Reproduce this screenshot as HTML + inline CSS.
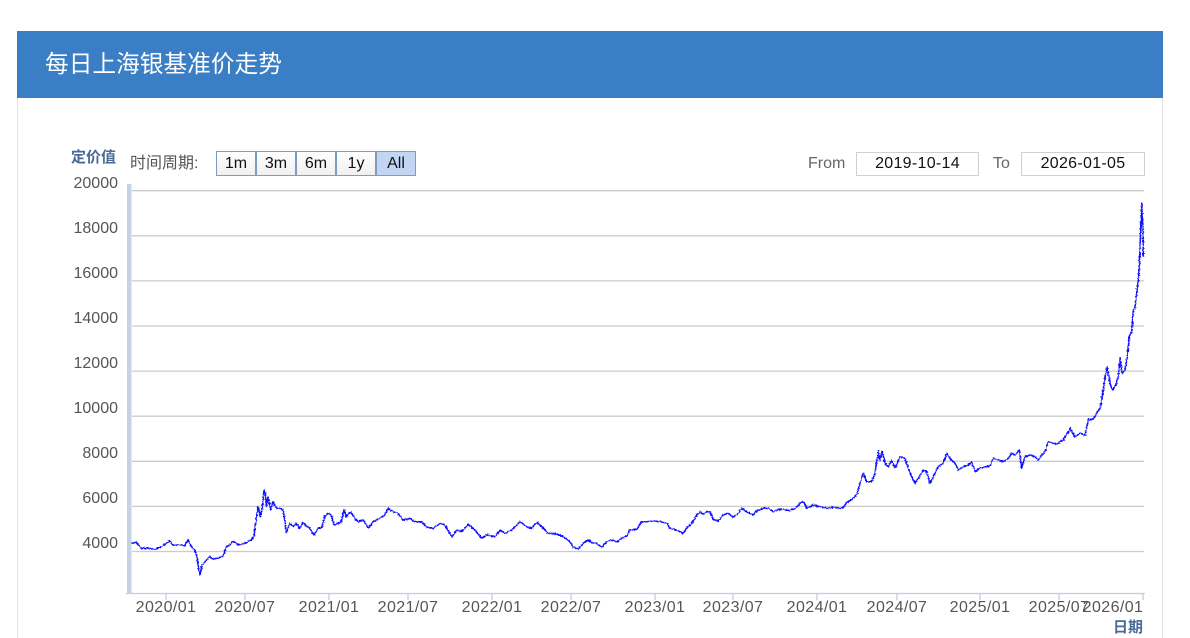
<!DOCTYPE html>
<html><head><meta charset="utf-8"><style>
*{margin:0;padding:0;box-sizing:border-box}
html,body{width:1190px;height:638px;background:#fff;overflow:hidden;position:relative;font-family:"Liberation Sans","Noto Sans CJK SC",sans-serif}
.card{position:absolute;left:17px;top:31px;width:1146px;height:620px;border:1px solid #e3e3e3;border-top:none}
.hdr{position:absolute;left:17px;top:31px;width:1146px;height:67px;background:#3a7ec6}
.title{position:absolute;left:45px;top:50px;color:#fff;font-size:23.7px;line-height:30px;font-family:"Liberation Sans","Noto Sans CJK SC",sans-serif;white-space:nowrap}
.abs{position:absolute;white-space:nowrap}
.btn{position:absolute;top:151px;height:25px;width:40px;border:1px solid #7f9bbd;background:linear-gradient(#ffffff,#f0f0f0);font-size:16px;line-height:23px;text-align:center;color:#111}
.box{position:absolute;top:152px;height:24px;border:1.5px solid #cfcfcf;font-size:16px;line-height:21px;text-align:center;color:#111;background:#fff;letter-spacing:0.3px}
.yl{position:absolute;right:1072px;font-size:16px;color:#555;line-height:16px}
.xl{position:absolute;font-size:16px;color:#555;line-height:16px;width:80px;margin-left:-40px;text-align:center;top:600px;letter-spacing:0.4px}
</style></head><body>
<div class="card"></div>
<div class="hdr"></div>
<div class="title">每日上海银基准价走势</div>

<div class="abs" style="left:71px;top:149px;font-size:15px;font-weight:bold;color:#4a6a96;line-height:18px">定价值</div>
<div class="abs" style="left:130px;top:155px;font-size:16px;color:#555;line-height:18px">时间周期:</div>
<div class="btn" style="left:216px">1m</div>
<div class="btn" style="left:256px">3m</div>
<div class="btn" style="left:296px">6m</div>
<div class="btn" style="left:336px">1y</div>
<div class="btn" style="left:376px;background:#c2d5f2">All</div>

<div class="abs" style="left:808px;top:155px;font-size:16px;color:#666;line-height:18px">From</div>
<div class="box" style="left:856px;width:123px">2019-10-14</div>
<div class="abs" style="left:993px;top:155px;font-size:16px;color:#666;line-height:18px">To</div>
<div class="box" style="left:1021px;width:124px">2026-01-05</div>

<div class="yl" style="top:176px">20000</div>
<div class="yl" style="top:221px">18000</div>
<div class="yl" style="top:266px">16000</div>
<div class="yl" style="top:311px">14000</div>
<div class="yl" style="top:356px">12000</div>
<div class="yl" style="top:401px">10000</div>
<div class="yl" style="top:446px">8000</div>
<div class="yl" style="top:491px">6000</div>
<div class="yl" style="top:536px">4000</div>

<svg class="abs" style="left:0;top:0" width="1190" height="638" viewBox="0 0 1190 638">
<defs>
<filter id="jit" x="-5%" y="-5%" width="110%" height="110%">
<feTurbulence type="fractalNoise" baseFrequency="0.6" numOctaves="2" seed="3" result="n"/>
<feDisplacementMap in="SourceGraphic" in2="n" scale="3" xChannelSelector="R" yChannelSelector="G"/>
</filter>
</defs>
<g stroke="#cccccc" stroke-width="1.3">
<line x1="132" y1="190.7" x2="1144" y2="190.7"/>
<line x1="132" y1="235.8" x2="1144" y2="235.8"/>
<line x1="132" y1="280.9" x2="1144" y2="280.9"/>
<line x1="132" y1="326" x2="1144" y2="326"/>
<line x1="132" y1="371.1" x2="1144" y2="371.1"/>
<line x1="132" y1="416.2" x2="1144" y2="416.2"/>
<line x1="132" y1="461.3" x2="1144" y2="461.3"/>
<line x1="132" y1="506.4" x2="1144" y2="506.4"/>
<line x1="132" y1="551.5" x2="1144" y2="551.5"/>
</g>
<rect x="127" y="184" width="4.5" height="410" fill="#c6d3e4"/>
<line x1="126" y1="593.5" x2="1145" y2="593.5" stroke="#c0d0e2" stroke-width="1.3"/>
<g stroke="#c0d0e2" stroke-width="1.3">
<line x1="166" y1="593" x2="166" y2="600"/>
<line x1="245" y1="593" x2="245" y2="600"/>
<line x1="329" y1="593" x2="329" y2="600"/>
<line x1="408" y1="593" x2="408" y2="600"/>
<line x1="492" y1="593" x2="492" y2="600"/>
<line x1="571" y1="593" x2="571" y2="600"/>
<line x1="655" y1="593" x2="655" y2="600"/>
<line x1="733" y1="593" x2="733" y2="600"/>
<line x1="817" y1="593" x2="817" y2="600"/>
<line x1="897" y1="593" x2="897" y2="600"/>
<line x1="980" y1="593" x2="980" y2="600"/>
<line x1="1059" y1="593" x2="1059" y2="600"/>
<line x1="1143" y1="593" x2="1143" y2="600"/>
</g>
<polyline filter="url(#jit)" fill="none" stroke="#1010ff" stroke-width="1.5" stroke-linejoin="round" points="131.3,543.3 136.3,542.3 141.3,548.3 148,548.3 154.7,549.3 161.3,546.7 169.7,541 173,545 181.3,545 184.7,545.7 188,540 191.3,546.7 194.7,550 197,556.7 198.7,570 200,575 202,565 206.3,560 209.7,556.7 213,559 218,558.3 223,556 226.3,546.7 229.7,545 233,541 238,545 244.7,543.3 251.3,540 254,536.7 255.7,521.7 258,506.7 260.3,516.7 262,510 264,490 265.3,493.3 266.3,506.7 268,496.7 270.7,510 273,501.7 276.3,508.3 279.7,508.3 283,510 284.7,520 286.3,533.3 289.7,523.3 293,526.7 296.3,523.3 299.7,528.3 303,522.7 306.3,526 309.7,528.3 314,535 318,528.3 321.3,528.3 324.7,516.7 328,513.3 331.3,515 334,525 338,523.3 341.3,521.7 344,510 346.3,516.7 350.7,511.7 354.7,518.3 358,521.7 363,520 368.7,528.3 373,521.7 379.7,518.3 384.7,515 388,508.3 393,511.7 398,513.3 403,520 409.7,518.3 414.7,521.7 421.3,521.7 427.3,527.3 433.3,528.3 440,523.3 445,525 451.7,536.7 456.7,530 461.7,531.7 468.3,524.3 475,530 481.7,538.3 486.7,535 495,536.7 500,530 505,533.3 511.7,530 520,521.7 526.7,526.7 531.7,528.3 536.7,522.3 541.7,526.7 548.3,533.3 556.7,534 563.3,536.7 570,541.7 573.3,547.3 578.3,549 583.3,543.3 588.3,540 592.7,543.3 596.7,543.3 601.7,547.3 606.7,541.7 611.7,540 616.7,541.7 621.7,538.3 626.7,536 630,530 636.7,529.3 641.7,521.7 646.7,521.7 653.3,521 660,521.7 666.7,523.3 670,528.3 676.7,530 683.3,533.3 686.7,528.3 691.7,523.3 696.7,515 700,511.7 703.3,514 706.7,511.7 710,511.7 713.3,519.3 718.3,521 723.3,515 728.3,513.3 733.3,517.3 738.3,513.3 741.7,508.3 746.7,511.7 753.3,515 756.7,510.7 763.3,508.3 768.3,508.3 773.3,511.7 778.3,509.3 783.3,509.3 790,510.7 795,508.3 800,503.3 803.3,501.7 806.7,508.3 813.3,505 820,506.7 826.7,508.3 833.3,507.3 840,508.3 843.3,507.3 846.7,502.7 851.7,499.3 856.7,495 860,483.3 863.3,473.3 866.7,481.7 871.7,481.7 875,473.3 878.3,451.7 880,460 882.3,451 885,463.3 888.3,466.7 891.7,460 895,468.3 900,456.7 905,458.3 908.3,468.3 911.7,476.7 915,483.3 918.3,478.3 923.3,470 926.7,471.7 930,483.3 933.3,476.7 938.3,466.7 943.3,463.3 946.7,453.3 950,458.3 955,463.3 958.3,470 963.3,466.7 968.3,465 971.7,461.7 975,471.7 980,468.3 985,466.7 990,466 993.3,458.3 998.3,460 1003.3,461.7 1008.3,458.3 1011.7,453.3 1015,455 1019.3,450 1021.7,468.3 1025,456.7 1030,455 1035,456.7 1038.3,460 1041.7,455 1045,451.7 1048.3,441.7 1053.3,443.3 1056.7,444 1060,441.7 1063.3,440 1067.3,433.3 1070,428.3 1075,437 1080,433 1085,435.5 1088.3,420 1093.3,419.3 1096.7,413.3 1100,408.3 1103.3,390 1105,376.7 1107.3,366.7 1110,383.3 1112.7,390 1116,384 1118.3,376.7 1120,358.3 1122.3,373.3 1125,370 1127.3,356.7 1129.3,336.7 1131.7,331.7 1133.3,310 1135,308.3 1136.7,293.3 1138.3,280 1139.3,266.7 1140,246.7 1141,223.3 1141.7,203.3 1142.3,216.7 1143,226.7 1143.3,256.7"/>
</svg>

<div class="xl" style="left:166px">2020/01</div>
<div class="xl" style="left:245px">2020/07</div>
<div class="xl" style="left:329px">2021/01</div>
<div class="xl" style="left:408px">2021/07</div>
<div class="xl" style="left:492px">2022/01</div>
<div class="xl" style="left:571px">2022/07</div>
<div class="xl" style="left:655px">2023/01</div>
<div class="xl" style="left:733px">2023/07</div>
<div class="xl" style="left:817px">2024/01</div>
<div class="xl" style="left:897px">2024/07</div>
<div class="xl" style="left:980px">2025/01</div>
<div class="xl" style="left:1059px">2025/07</div>
<div class="xl" style="left:1113px">2026/01</div>
<div class="abs" style="left:1113px;top:619px;font-size:15px;font-weight:bold;color:#4a6a96;line-height:18px">日期</div>
</body></html>
